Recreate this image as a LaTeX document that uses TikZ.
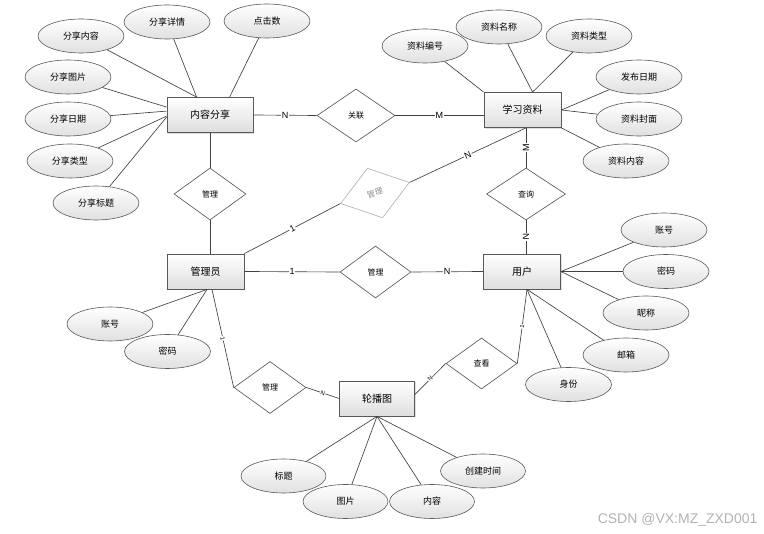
\documentclass[tikz,border=0pt]{standalone}
\usepackage{fontspec}
\setmainfont{Noto Sans CJK SC}
\newfontfamily\latinfont{Liberation Sans}
\usetikzlibrary{shapes.geometric,shadows,calc}
\tikzset{
 ln/.style={draw=black!75, line width=0.65pt},
 ent/.style={draw=black!65, line width=0.8pt, top color=white, bottom color=black!13, minimum width=77pt, minimum height=35pt, inner sep=0pt, font=\fontsize{10}{12}\selectfont, drop shadow={opacity=0.25, shadow xshift=1.2pt, shadow yshift=-1.2pt}},
 attr/.style={ellipse, draw=black!65, line width=0.6pt, top color=white, bottom color=black!12, minimum width=86pt, minimum height=34pt, inner sep=0pt, font=\fontsize{9}{11}\selectfont},
 rel/.style={diamond, draw=black!65, line width=0.65pt, fill=white, minimum width=72pt, minimum height=52pt, inner sep=0pt, font=\fontsize{8}{10}\selectfont},
 card/.style={fill=white, inner sep=0.8pt, font=\latinfont\fontsize{9}{10}\selectfont},
 cardsm/.style={fill=white, inner sep=0.5pt, font=\latinfont\fontsize{6}{7}\selectfont},
}
\begin{document}
\begin{tikzpicture}[x=1pt,y=-1pt]
\useasboundingbox (0,0) rectangle (764,534);
% entities
\node[ent, minimum width=86pt] (ns) at (210,115) {内容分享};
\node[ent] (xx) at (522.5,110) {学习资料};
\node[ent] (gly) at (205.5,271.5) {管理员};
\node[ent] (yh) at (522,271.5) {用户};
\node[ent, minimum width=75pt] (lbt) at (377,398.5) {轮播图};
% attributes
\node[attr] (a1) at (81,36) {分享内容};
\node[attr] (a2) at (167,22) {分享详情};
\node[attr] (a3) at (267,21) {点击数};
\node[attr] (a4) at (68,77) {分享图片};
\node[attr] (a5) at (68,119) {分享日期};
\node[attr] (a6) at (70,161) {分享类型};
\node[attr] (a7) at (96,203) {分享标题};
\node[attr] (b1) at (425,46) {资料编号};
\node[attr] (b2) at (499,27) {资料名称};
\node[attr] (b3) at (589,36) {资料类型};
\node[attr] (b4) at (639,77) {发布日期};
\node[attr] (b5) at (639,119) {资料封面};
\node[attr] (b6) at (626,161) {资料内容};
\node[attr] (c1) at (664,230) {账号};
\node[attr] (c2) at (666,271.5) {密码};
\node[attr] (c3) at (646,313) {昵称};
\node[attr] (c4) at (626,355) {邮箱};
\node[attr] (c5) at (568.5,384.5) {身份};
\node[attr] (d1) at (110,324) {账号};
\node[attr] (d2) at (167.5,351.5) {密码};
\node[attr, minimum width=85pt] (e1) at (283.5,476) {标题};
\node[attr, minimum width=85pt] (e2) at (345.5,501.5) {图片};
\node[attr, minimum width=85pt] (e3) at (432,501.5) {内容};
\node[attr, minimum width=85pt] (e4) at (483,471) {创建时间};
% relationships
\node[rel] (gl1) at (210,194) {管理};
\node[rel, minimum width=78pt, minimum height=53pt] (gl) at (356,115.5) {关联};
\node[rel, minimum width=79pt] (cx) at (526,194) {查询};
\node[rel, draw=black!30, text=black!45, rotate=17] (gl2) at (375,193) {管理};
\node[rel, minimum width=71pt] (gl3) at (375.5,272) {管理};
\node[rel] (gl4) at (270,387.5) {管理};
\node[rel, minimum width=71pt, minimum height=51pt] (ck) at (481.5,363.5) {查看};
% attribute lines
\draw[ln] (a1) -- ($(ns.north west)+(30,0)$);
\draw[ln] (a2) -- ($(ns.north west)+(30,0)$);
\draw[ln] (a3) -- ($(ns.north west)+(63,0)$);
\draw[ln] (a4) -- ($(ns.north west)+(0,10)$);
\draw[ln] (a5) -- ($(ns.north west)+(0,14)$);
\draw[ln] (a6) -- ($(ns.north west)+(0,19)$);
\draw[ln] (a7) -- ($(ns.north west)+(0,20)$);
\draw[ln] (b1) -- (xx.north west);
\draw[ln] (b2) -- ($(xx.north west)+(49,0)$);
\draw[ln] (b3) -- ($(xx.north west)+(49,0)$);
\draw[ln] (b4) -- (xx.east);
\draw[ln] (b5) -- (xx.east);
\draw[ln] (b6) -- (xx.south east);
\draw[ln] (c1) -- (yh.east);
\draw[ln] (c2) -- (yh.east);
\draw[ln] (c3) -- (yh.east);
\draw[ln] (c4) -- ($(yh.south)+(5,0)$);
\draw[ln] (c5) -- ($(yh.south)+(5,0)$);
\draw[ln] (d1) -- ($(gly.south)+(1.5,0)$);
\draw[ln] (d2) -- ($(gly.south)+(1.5,0)$);
\draw[ln] (e1) -- (lbt.south);
\draw[ln] (e2) -- (lbt.south);
\draw[ln] (e3) -- (lbt.south);
\draw[ln] (e4) -- (lbt.south);
% relationship lines
\draw[ln] (ns.east) -- node[card]{N} (gl.west);
\draw[ln] (gl.east) -- node[card]{M} (gl.east -| xx.west);
\draw[ln] (ns.south) -- (gl1.north);
\draw[ln] (gl1.south) -- (gl1.south |- gly.north);
\draw[ln] (gly.north east) -- node[card, sloped]{1} (gl2.west);
\draw[ln] (gl2.east) -- node[card, sloped]{N} (cx.north |- xx.south);
\draw[ln] (cx.north) -- node[card, sloped]{M} (cx.north |- xx.south);
\draw[ln] (cx.south) -- node[card, sloped]{N} (cx.south |- yh.north);
\draw[ln] (gly.east) -- node[card]{1} (gl3.west);
\draw[ln] (gl3.east) -- node[card]{N} (yh.west);
\draw[ln] ($(gly.south)+(6.5,0)$) -- node[cardsm, sloped]{1} (gl4.west);
\draw[ln] (gl4.east) -- node[cardsm, sloped]{N} (lbt.west);
\draw[ln] ($(lbt.east)+(0,-4)$) -- node[cardsm, sloped]{N} (ck.west);
\draw[ln] (ck.east) -- node[cardsm, sloped]{1} ($(yh.south)+(5,0)$);
% watermark
\node[font=\latinfont\fontsize{14}{15}\selectfont, text=black!30, anchor=east] (wm) at (761,520) {CSDN @VX:MZ\_ZXD001};
\end{tikzpicture}
\end{document}
